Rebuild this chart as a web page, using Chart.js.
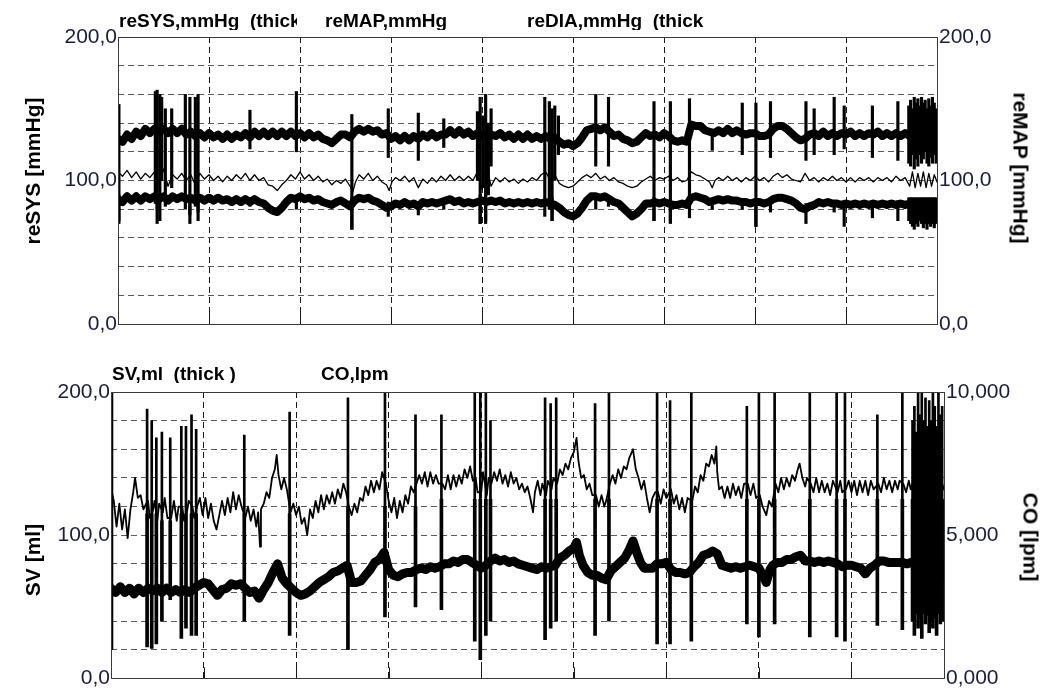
<!DOCTYPE html>
<html><head><meta charset="utf-8">
<script src="https://cdn.jsdelivr.net/npm/chart.js@4/dist/chart.umd.min.js"></script>
<style>
html,body{margin:0;padding:0;background:#fff;width:1047px;height:693px;overflow:hidden;font-family:'Liberation Sans',Arial,sans-serif;}
canvas{position:absolute;left:0;}
#c1{top:0}
#c2{top:350px}
.hdr{position:absolute;font-weight:bold;font-size:19px;line-height:19px;color:#000;white-space:pre;overflow:hidden;}
.vt{position:absolute;font-weight:bold;font-size:21px;line-height:23px;white-space:nowrap;color:#000;}
</style></head><body>
<canvas id="c1" width="1047" height="345"></canvas>
<canvas id="c2" width="1047" height="343"></canvas>
<div class="hdr" style="left:119px;top:11px;width:178px">reSYS,mmHg  (thick</div>
<div class="hdr" style="left:325px;top:11px">reMAP,mmHg</div>
<div class="hdr" style="left:527px;top:11px">reDIA,mmHg  (thick</div>
<div class="hdr" style="left:112px;top:364px">SV,ml  (thick )</div>
<div class="hdr" style="left:321px;top:364px">CO,lpm</div>
<div class="vt" style="left:32px;top:171px;transform:translate(-50%,-50%) rotate(-90deg)">reSYS [mmHg]</div>
<div class="vt" style="left:1021px;top:168px;transform:translate(-50%,-50%) rotate(90deg)">reMAP [mmHg]</div>
<div class="vt" style="left:32px;top:560px;transform:translate(-50%,-50%) rotate(-90deg)">SV [ml]</div>
<div class="vt" style="left:1031px;top:537px;transform:translate(-50%,-50%) rotate(90deg)">CO [lpm]</div>
<script>
// ---- tick labels ----
const pressureTickValues = [0, 100, 200];
const pressureTickLabels = ['0,0', '100,0', '200,0'];
const svTickValues = [0, 100, 200];
const svTickLabels = ['0,0', '100,0', '200,0'];
const coTickValues = [0, 5, 10];
const coTickLabels = ['0,000', '5,000', '10,000'];

// ---- top panel, baseline traces: [time, mmHg] ----
const sysBase = [[0,129],[0.5,127],[1,132],[1.5,129],[2,134],[2.5,131],[3,136],[3.5,133],[4,136],[4.5,134],[5,136],[5.5,133],[6,136],[6.5,133],[7,136],[7.5,132],[8,134],[8.5,131],[9,133],[9.5,130],[10,133],[10.5,130],[11,132],[11.5,129],[12,132],[12.5,129],[13,132],[13.5,130],[14,133],[14.5,130],[15,134],[15.5,131],[16,134],[16.5,131],[17,134],[17.5,131],[18,134],[18.5,131],[19,134],[19.5,131],[20,133],[20.5,130],[21,133],[21.5,130],[22,132],[22.5,129],[23,128],[23.5,126],[24,129],[24.5,132],[25,132],[25.5,130],[26,134],[26.5,136],[27,134],[27.5,136],[28,134],[28.5,135],[29,132],[29.5,133],[30,129],[30.5,131],[31,128],[31.5,131],[32,128],[32.5,131],[33,129],[33.5,132],[34,130],[34.5,133],[35,130],[35.5,132],[36,132],[36.5,135],[37,132],[37.5,135],[38,132],[38.5,134],[39,131],[39.5,133],[40,131],[40.5,133],[41,132],[41.5,131],[42,133],[42.5,130],[43,132],[43.5,129],[44,132],[44.5,129],[45,132],[45.5,129],[46,131],[46.5,129],[47,131],[47.5,129],[48,130],[48.5,127],[49,125],[49.5,126],[50,124],[50.5,126],[51,130],[51.5,135],[52,136],[52.5,137],[53,135],[53.5,137],[54,134],[54.5,131],[55,132],[55.5,129],[56,128],[56.5,126],[57,127],[57.5,130],[58,133],[58.5,131],[59,132],[59.5,130],[60,133],[60.5,131],[61,128],[61.5,127],[62,128],[62.5,127],[63,139],[63.5,138],[64,138],[64.5,135],[65,134],[65.5,133],[66,135],[66.5,133],[67,136],[67.5,133],[68,135],[68.5,133],[69,132],[69.5,133],[70,133],[70.5,131],[71,131],[71.5,132],[72,136],[72.5,138],[73,138],[73.5,136],[74,133],[74.5,130],[75,128],[75.5,129],[76,132],[76.5,133],[77,131],[77.5,134],[78,131],[78.5,133],[79,131],[79.5,133],[80,132],[80.5,134],[81,131],[81.5,133],[82,131],[82.5,133],[83,132],[83.5,134],[84,131],[84.5,133],[85,131],[85.5,133],[86,131],[86.5,133],[87,131],[87.5,134],[88,130],[88.5,133],[89,130],[89.5,133],[90,129]];

const mapBase = [[0,106],[0.5,103],[1,107],[1.5,102],[2,106],[2.5,101],[3,105],[3.5,102],[4,106],[4.5,98],[5,108],[5.5,96],[6,104],[6.5,101],[7,105],[7.5,100],[8,104],[8.5,97],[9,105],[9.5,101],[10,104],[10.5,100],[11,103],[11.5,99],[12,103],[12.5,100],[13,104],[13.5,101],[14,105],[14.5,100],[15,104],[15.5,100],[16,102],[16.5,97],[17,96],[17.5,93],[18,97],[18.5,100],[19,104],[19.5,101],[20,106],[20.5,101],[21,104],[21.5,100],[22,103],[22.5,99],[23,101],[23.5,97],[24,100],[24.5,98],[25,101],[25.5,96],[25.8,92],[26.1,99],[26.5,104],[27,101],[27.5,105],[28,100],[28.5,103],[29,99],[29.5,97],[29.8,93],[30.1,99],[30.5,102],[31,100],[31.5,103],[32,99],[32.5,102],[33,95],[33.5,101],[34,98],[34.5,102],[35,99],[35.5,103],[36,100],[36.5,104],[37,100],[37.5,103],[38,100],[38.5,103],[39,100],[39.5,106],[40,94],[40.5,110],[41,96],[41.5,102],[42,99],[42.5,102],[43,99],[43.5,101],[44,98],[44.5,101],[45,99],[45.5,102],[46,100],[46.5,104],[47,106],[47.5,100],[48,104],[48.5,98],[49,96],[49.5,95],[50,96],[50.5,99],[51,102],[51.5,104],[52,102],[52.5,105],[53,101],[53.5,103],[54,100],[54.5,102],[55,99],[55.5,98],[56,96],[56.5,95],[57,96],[57.5,99],[58,101],[58.5,103],[59,100],[59.5,102],[60,101],[60.5,103],[61,100],[61.5,102],[62,99],[62.5,100],[63,106],[63.5,104],[64,103],[64.5,101],[65,99],[65.3,95],[65.6,100],[66,102],[66.5,100],[67,103],[67.5,100],[68,102],[68.5,99],[69,102],[69.5,100],[70,103],[70.5,100],[71,102],[71.5,99],[72,103],[72.5,105],[73,102],[73.5,104],[74,101],[74.5,100],[75,99],[75.5,105],[76,100],[76.5,102],[77,99],[77.5,102],[78,100],[78.5,103],[79,100],[79.5,102],[80,99],[80.5,102],[81,99],[81.5,102],[82,100],[82.5,102],[83,99],[83.5,102],[84,100],[84.5,102],[85,99],[85.5,103],[86,100],[86.5,102],[87,96],[87.3,106],[87.6,95],[87.9,105],[88.2,96],[88.5,106],[88.8,95],[89.1,105],[89.4,96],[89.7,104],[90,99]];

const diaBase = [[0,87],[0.5,85],[1,89],[1.5,86],[2,89],[2.5,86],[3,89],[3.5,87],[4,89],[4.5,87],[5,89],[5.5,86],[6,89],[6.5,87],[7,89],[7.5,87],[8,88],[8.5,86],[9,88],[9.5,86],[10,88],[10.5,86],[11,88],[11.5,86],[12,87],[12.5,85],[13,87],[13.5,85],[14,87],[14.5,85],[15,87],[15.5,85],[16,84],[16.5,81],[17,79],[17.5,78],[18,81],[18.5,85],[19,88],[19.5,87],[20,89],[20.5,87],[21,88],[21.5,86],[22,87],[22.5,85],[23,84],[23.5,83],[24,85],[24.5,86],[25,84],[25.5,82],[26,86],[26.5,88],[27,87],[27.5,88],[28,86],[28.5,85],[29,83],[29.5,81],[30,82],[30.5,84],[31,83],[31.5,85],[32,83],[32.5,84],[33,82],[33.5,85],[34,84],[34.5,85],[35,84],[35.5,85],[36,86],[36.5,87],[37,85],[37.5,86],[38,84],[38.5,85],[39,84],[39.5,85],[40,86],[40.5,85],[41,86],[41.5,85],[42,86],[42.5,84],[43,85],[43.5,84],[44,85],[44.5,84],[45,85],[45.5,84],[46,85],[46.5,84],[47,85],[47.5,84],[48,83],[48.5,81],[49,78],[49.5,76],[50,75],[50.5,77],[51,81],[51.5,86],[52,89],[52.5,89],[53,88],[53.5,89],[54,87],[54.5,85],[55,84],[55.5,81],[56,78],[56.5,75],[57,77],[57.5,80],[58,84],[58.5,84],[59,85],[59.5,84],[60,85],[60.5,84],[61,83],[61.5,83],[62,84],[62.5,83],[63,88],[63.5,89],[64,88],[64.5,87],[65,85],[65.5,86],[66,87],[66.5,86],[67,87],[67.5,86],[68,86],[68.5,85],[69,85],[69.5,84],[70,85],[70.5,85],[71,84],[71.5,85],[72,87],[72.5,88],[73,88],[73.5,87],[74,86],[74.5,84],[75,81],[75.5,80],[76,82],[76.5,83],[77,85],[77.5,84],[78,85],[78.5,84],[79,84],[79.5,83],[80,84],[80.5,83],[81,84],[81.5,83],[82,84],[82.5,83],[83,84],[83.5,83],[84,84],[84.5,83],[85,84],[85.5,83],[86,84],[86.5,83],[87,84],[87.5,83],[88,84],[88.5,83],[89,84],[89.5,83],[90,82]];

// ---- top panel, artefact spikes: [time, low, high] in mmHg ----
const sysSpikes = [[0.1,72,153],[4.1,84,162],[4.3,80,163],[4.6,90,160],[4.8,100,158],[5.2,82,150],[5.9,95,150],[7.4,80,160],[7.9,76,158],[8.5,82,158],[8.8,78,160],[14.5,122,149],[19.6,120,162],[25.7,66,146],[29.7,116,150],[33.0,114,147],[35.8,123,143],[39.5,100,148],[39.8,70,158],[40.1,95,145],[40.4,72,160],[40.7,90,140],[41.0,110,150],[46.9,75,158],[47.4,80,155],[47.7,72,150],[48.0,100,152],[48.4,118,145],[52.5,110,160],[53.9,110,158],[58.9,72,155],[60.7,71,155],[62.8,85,157],[65.3,121,133],[68.6,118,154],[70.1,68,154],[71.7,116,155],[75.6,114,155],[76.5,118,150],[78.7,118,158],[79.8,122,152],[82.9,116,152],[85.7,114,155],[86.9,112,152],[87.1,110,156],[87.3,118,150],[87.5,108,158],[87.7,115,154],[87.9,110,157],[88.1,118,152],[88.3,112,158],[88.5,115,154],[88.7,120,156],[88.9,112,150],[89.1,110,157],[89.3,116,152],[89.5,112,158],[89.7,118,154],[89.9,112,150]];
const diaSpikes = [[0.1,70,90],[4.3,70,90],[4.6,72,90],[7.9,70,90],[8.8,72,90],[14.5,82,88],[19.6,80,88],[25.7,66,88],[29.7,75,85],[33.0,76,85],[35.8,80,86],[39.8,70,90],[40.4,70,90],[47.7,72,88],[52.5,80,90],[53.9,82,88],[58.9,72,88],[60.7,70,86],[62.8,74,88],[65.3,80,86],[68.6,80,86],[70.1,68,86],[71.7,78,86],[75.6,70,84],[78.7,78,86],[79.8,68,86],[82.9,74,86],[85.7,72,86],[86.9,72,88],[87.1,70,88],[87.3,68,88],[87.5,66,88],[87.7,70,88],[87.9,68,88],[88.1,72,88],[88.3,70,88],[88.5,67,88],[88.7,70,88],[88.9,66,88],[89.1,70,88],[89.3,68,88],[89.5,70,88],[89.7,67,88],[89.9,70,88]];

// ---- bottom panel, baseline traces: SV [time, ml], CO [time, lpm] ----
const svBase = [[0,63],[0.5,60],[1,64],[1.5,60],[2,63],[2.5,59],[3,63],[3.5,60],[4,63],[4.5,61],[5,63],[5.5,60],[6,63],[6.5,60],[7,62],[7.5,60],[8,62],[8.5,60],[9,63],[9.5,65],[10,67],[10.5,66],[11,62],[11.5,58],[12,62],[12.5,63],[13,66],[13.5,65],[14,66],[14.5,63],[15,60],[15.5,61],[16,56],[16.5,62],[17,67],[17.5,74],[18,80],[18.5,70],[19,66],[19.5,63],[20,60],[20.5,58],[21,59],[21.5,61],[22,64],[22.5,67],[23,69],[23.5,71],[24,74],[24.5,75],[25,77],[25.5,79],[26,67],[26.5,67],[27,68],[27.5,72],[28,76],[28.5,81],[29,83],[29.5,88],[30,76],[30.5,72],[31,71],[31.5,73],[32,74],[32.5,74],[33,76],[33.5,77],[34,76],[34.5,78],[35,77],[35.5,78],[36,80],[36.5,80],[37,82],[37.5,81],[38,83],[38.5,83],[39,81],[39.5,79],[40,77],[40.5,79],[41,82],[41.5,84],[42,82],[42.5,83],[43,81],[43.5,82],[44,80],[44.5,79],[45,78],[45.5,77],[46,76],[46.5,78],[47,77],[47.5,78],[48,79],[48.5,84],[49,86],[49.5,89],[50,91],[50.3,95],[50.6,86],[51,79],[51.5,74],[52,72],[52.5,72],[53,70],[53.5,69],[54,75],[54.5,78],[55,81],[55.5,84],[56,90],[56.4,96],[56.8,88],[57.2,81],[57.6,77],[58,77],[58.5,77],[59,80],[59.5,80],[60,81],[60.5,76],[61,74],[61.5,74],[62,73],[62.5,74],[63,78],[63.5,81],[64,86],[64.5,87],[65,89],[65.5,87],[66,79],[66.5,78],[67,77],[67.5,78],[68,77],[68.5,78],[69,79],[69.5,78],[70,77],[70.5,71],[70.8,67],[71.2,76],[71.5,79],[72,81],[72.5,81],[73,83],[73.5,83],[74,85],[74.5,86],[75,82],[75.5,82],[76,81],[76.5,82],[77,81],[77.5,82],[78,81],[78.5,80],[79,78],[79.5,79],[80,79],[80.5,78],[81,77],[81.5,73],[82,77],[82.5,79],[83,82],[83.5,82],[84,81],[84.5,81],[85,81],[85.5,81],[86,80],[86.5,81],[87,80],[87.5,80],[88,81],[88.5,80],[89,80],[89.5,81],[90,72]];

const coBase = [[0,8.2],[0.1,6.5],[0.3,6.2],[0.6,5.3],[0.9,6.1],[1.2,5.2],[1.5,5.9],[1.8,4.9],[2.1,5.9],[2.4,6.5],[2.6,7.0],[2.9,6.3],[3.2,6.4],[3.5,5.9],[3.8,6.1],[4.0,6.2],[4.2,5.6],[4.5,5.8],[4.7,6.2],[5.0,5.5],[5.2,6.1],[5.6,5.8],[5.8,6.3],[6.1,5.6],[6.5,5.6],[6.8,6.2],[7.1,5.5],[7.3,6.0],[7.7,6.0],[7.9,5.5],[8.2,5.8],[8.4,6.2],[8.8,6.0],[9.0,5.6],[9.3,6.0],[9.6,6.3],[9.9,5.7],[10.2,6.3],[10.5,5.6],[10.8,6.1],[11.1,5.5],[11.4,5.2],[11.7,5.7],[12.0,6.2],[12.3,5.7],[12.6,6.3],[12.9,5.8],[13.2,6.5],[13.5,5.9],[13.8,6.4],[14.1,6.0],[14.5,5.6],[14.8,6.0],[15.1,5.5],[15.4,5.9],[15.7,5.3],[15.9,5.8],[16.1,4.6],[16.2,5.9],[16.5,6.1],[16.8,6.5],[17.1,6.3],[17.4,7.0],[17.7,7.3],[17.9,7.8],[18.1,7.1],[18.4,6.6],[18.7,7.0],[19.0,6.6],[19.4,5.8],[19.7,6.1],[20.0,5.7],[20.3,6.0],[20.6,5.4],[20.9,5.6],[21.2,5.0],[21.5,5.9],[21.8,5.6],[22.1,6.2],[22.4,5.8],[22.7,6.4],[23.0,5.9],[23.3,6.4],[23.6,6.1],[23.9,6.5],[24.2,6.1],[24.5,6.6],[24.8,6.3],[25.1,6.8],[25.4,6.5],[25.7,6.0],[26.0,5.7],[26.3,6.1],[26.6,5.8],[26.9,6.3],[27.2,6.2],[27.5,6.7],[27.8,6.4],[28.1,6.9],[28.4,6.5],[28.7,6.9],[29.0,6.6],[29.3,7.2],[29.7,6.8],[30.0,6.2],[30.3,5.8],[30.6,6.3],[30.9,5.6],[31.2,6.2],[31.5,5.8],[31.8,6.4],[32.1,6.1],[32.4,6.7],[32.7,6.5],[33.0,6.8],[33.3,7.1],[33.6,6.8],[33.9,7.2],[34.2,6.7],[34.5,7.2],[34.8,6.8],[35.1,7.1],[35.4,6.8],[35.8,6.8],[36.1,6.6],[36.4,7.1],[36.7,6.6],[37.0,7.1],[37.3,6.7],[37.6,7.1],[37.9,6.8],[38.2,7.3],[38.5,7.0],[38.8,7.4],[39.1,6.9],[39.4,7.0],[39.6,6.5],[40.0,6.5],[40.2,7.2],[40.6,6.4],[40.8,7.0],[41.1,6.8],[41.4,7.2],[41.7,6.9],[42.0,7.3],[42.3,6.8],[42.6,7.1],[42.9,6.7],[43.2,7.2],[43.5,6.8],[43.8,7.0],[44.1,6.6],[44.4,6.8],[44.7,6.5],[45.0,6.7],[45.3,6.3],[45.6,5.8],[45.8,6.5],[46.1,6.9],[46.4,6.4],[46.6,6.8],[47.0,6.4],[47.2,6.9],[47.6,6.6],[47.8,7.0],[48.2,6.8],[48.5,7.3],[48.8,7.1],[49.1,7.5],[49.4,7.3],[49.7,7.7],[50.0,7.9],[50.3,8.4],[50.5,7.6],[50.8,7.0],[51.1,7.1],[51.4,6.6],[51.7,6.8],[52.0,6.4],[52.4,6.4],[52.7,6.0],[53.0,6.4],[53.3,6.0],[53.5,6.2],[53.9,6.8],[54.2,7.1],[54.5,6.8],[54.8,7.3],[55.1,7.0],[55.4,7.4],[55.7,7.3],[56.0,7.7],[56.4,8.0],[56.7,7.3],[57.0,7.0],[57.3,6.6],[57.6,6.9],[57.9,6.3],[58.2,5.8],[58.5,6.3],[58.8,6.5],[59.1,6.5],[59.4,6.1],[59.7,6.6],[60.0,6.3],[60.5,6.6],[60.8,6.1],[61.1,6.4],[61.4,5.9],[61.7,6.3],[62.0,5.8],[62.3,6.3],[62.8,6.2],[63.1,6.7],[63.4,6.5],[63.7,7.1],[64.0,6.9],[64.3,7.5],[64.6,7.4],[64.9,7.8],[65.2,7.5],[65.4,8.1],[65.5,7.2],[65.7,6.6],[66.0,6.7],[66.3,6.3],[66.6,6.7],[66.9,6.3],[67.2,6.8],[67.5,6.4],[67.8,6.7],[68.1,6.3],[68.4,6.8],[68.8,6.8],[69.1,6.4],[69.4,6.8],[69.7,6.3],[70.1,6.4],[70.4,6.0],[70.8,5.7],[71.1,6.2],[71.4,6.0],[71.8,6.8],[72.1,6.5],[72.4,7.0],[72.7,6.6],[73.0,7.0],[73.3,6.7],[73.6,7.1],[73.9,6.9],[74.2,7.3],[74.4,7.5],[74.7,7.0],[75.0,6.7],[75.2,7.0],[75.6,6.8],[75.9,6.5],[76.2,7.0],[76.5,6.5],[76.8,6.9],[77.1,6.5],[77.4,6.8],[77.7,6.4],[78.0,6.9],[78.5,6.5],[78.8,6.9],[79.0,6.5],[79.4,6.6],[79.7,6.9],[80.0,6.5],[80.3,6.9],[80.6,6.4],[80.9,6.9],[81.2,6.5],[81.5,6.9],[81.8,6.4],[82.1,6.9],[82.4,6.6],[82.9,6.8],[83.2,6.5],[83.5,7.0],[83.8,6.6],[84.1,6.9],[84.4,6.5],[84.7,6.9],[85.0,6.6],[85.2,6.9],[85.6,6.8],[85.9,6.5],[86.2,6.9],[86.4,6.6],[86.7,6.9],[87.0,6.4],[87.3,7.0],[87.6,6.5],[87.9,7.0],[88.2,6.4],[88.5,7.0],[88.8,6.5],[89.1,7.0],[89.4,6.4],[89.7,6.9],[90,6.6]];

// ---- bottom panel, artefact spikes: [time, low, high] ----
const svSpikes = [[0.05,20,200],[3.9,22,115],[4.4,21,115],[4.9,24,115],[5.5,40,110],[6.4,55,110],[7.6,28,115],[8.1,35,115],[8.7,30,115],[9.2,30,115],[14.4,40,115],[19.3,30,115],[25.6,20,120],[29.6,43,120],[32.9,50,120],[35.7,48,125],[39.3,26,125],[39.9,13,125],[40.5,30,125],[41.0,40,125],[46.9,27,125],[47.5,35,125],[48.1,40,125],[52.3,30,125],[53.8,40,125],[59.0,24,125],[60.4,24,125],[62.7,26,125],[68.7,38,125],[70.0,29,125],[71.7,38,125],[75.5,29,125],[78.4,29,125],[79.3,26,125],[82.8,37,125],[85.5,34,125],[86.6,40,125],[86.8,30,125],[87.0,45,125],[87.2,35,125],[87.4,42,125],[87.6,28,125],[87.8,45,125],[88.0,38,125],[88.2,44,125],[88.4,32,125],[88.6,40,125],[88.8,35,125],[89.0,42,125],[89.2,30,125],[89.4,45,125],[89.6,38,125],[89.8,40,125]];
const coSpikes = [[0.05,5.5,9.9],[3.9,5.5,9.4],[4.4,5.5,9.0],[4.9,5.5,8.4],[5.5,5.5,8.6],[6.4,5.5,8.4],[7.6,5.5,8.8],[8.1,5.5,8.8],[8.7,5.5,9.2],[9.2,5.5,8.7],[14.4,5.5,8.5],[19.3,5.5,9.3],[25.6,6,9.8],[29.6,6,10],[32.9,6,9.2],[35.7,6,9.2],[39.3,6,10],[39.9,6,10],[40.5,6,10],[41.0,6,9.0],[46.9,6,9.8],[47.5,6,9.6],[48.1,6,9.8],[52.3,6,9.6],[53.8,6,10],[59.0,6,10],[60.4,6,9.7],[62.7,6,10],[68.7,6,9.5],[70.0,6,10],[71.7,6,10],[75.5,6,10],[78.4,6,10],[79.3,6,10],[82.8,6,9.2],[85.5,6,10],[86.6,6,9.0],[86.8,6,9.5],[87.0,6,8.6],[87.2,6,10],[87.4,6,9.2],[87.6,6,10],[87.8,6,9.0],[88.0,6,9.8],[88.2,6,8.8],[88.4,6,9.7],[88.6,6,9.0],[88.8,6,10],[89.0,6,9.5],[89.2,6,8.8],[89.4,6,10],[89.6,6,9.2],[89.8,6,9.5]];

// ---- rendering ----
const toXY = pts => pts.map(p => ({x: p[0], y: p[1]}));
const toRange = sp => sp.map(s => ({x: s[0], y: [s[1], s[2]]}));
const tickFont = {family: "'Liberation Sans', Arial, sans-serif", size: 21};
const tickColor = '#1c1c3e';
const labelFor = (vals, labs) => v => { const i = vals.indexOf(v); return i >= 0 ? labs[i] : ''; };

const frame = {
  id: 'frame',
  afterDatasetsDraw(c) {
    const a = c.chartArea, ctx = c.ctx, xs = c.scales.x;
    ctx.save();
    ctx.setLineDash([]);
    ctx.strokeStyle = '#1a1a1a';
    ctx.lineWidth = 1;
    ctx.beginPath();
    xs.ticks.forEach(t => {
      const px = Math.round(xs.getPixelForValue(t.value)) + 0.5;
      ctx.moveTo(px, a.bottom);
      ctx.lineTo(px, a.bottom - 11);
    });
    ctx.stroke();
    ctx.strokeStyle = '#3a3a3a';
    ctx.strokeRect(Math.round(a.left) + 0.5, Math.round(a.top) + 0.5, Math.round(a.right - a.left), Math.round(a.bottom - a.top));
    ctx.restore();
  }
};

function lineDs(pts, width, axis) {
  return {type: 'line', data: toXY(pts), borderColor: '#000', borderWidth: width, pointRadius: 0, tension: 0,
          borderJoinStyle: 'round', borderCapStyle: 'round', fill: false, yAxisID: axis};
}
function spikeDs(sp, thick, axis) {
  return {type: 'bar', data: toRange(sp), backgroundColor: '#000', borderWidth: 0,
          barThickness: thick, grouped: false, yAxisID: axis};
}

function makeChart(id, datasets, cfg) {
  return new Chart(document.getElementById(id), {
    type: 'line',
    data: {datasets},
    plugins: [frame],
    options: {
      responsive: false, animation: false, devicePixelRatio: 1,
      layout: {padding: {top: cfg.padTop, left: 0, right: 0, bottom: 0}},
      plugins: {legend: {display: false}, tooltip: {enabled: false}},
      scales: {
        x: {type: 'linear', min: 0, max: 90, offset: false,
            ticks: {stepSize: 10, display: false},
            grid: {color: '#1a1a1a', lineWidth: 1, drawTicks: false, offset: false},
            border: {display: false, dash: [6, 4]},
            afterFit: s => { s.height = cfg.xHeight; }},
        y: {type: 'linear', position: 'left', min: 0, max: cfg.leftMax,
            ticks: {stepSize: cfg.leftMax / 10, autoSkip: false, font: tickFont, color: tickColor, padding: 1,
                    callback: labelFor(cfg.leftVals, cfg.leftLabs)},
            grid: {color: '#5a5a5a', lineWidth: 1, drawTicks: false},
            border: {display: false, dash: [6, 4]},
            afterFit: s => { s.width = cfg.leftW; }},
        yR: {type: 'linear', position: 'right', min: 0, max: cfg.rightMax,
            ticks: {stepSize: cfg.rightMax / 10, autoSkip: false, font: tickFont, color: tickColor, padding: 2,
                    callback: labelFor(cfg.rightVals, cfg.rightLabs)},
            grid: {display: false, drawTicks: false},
            border: {display: false},
            afterFit: s => { s.width = cfg.rightW; }}
      }
    }
  });
}

makeChart('c1', [
  lineDs(mapBase, 1.3, 'y'),
  lineDs(sysBase, 8, 'y'),
  lineDs(diaBase, 8, 'y'),
  spikeDs(sysSpikes, 2.5, 'y'),
  spikeDs(diaSpikes, 2.5, 'y')
], {padTop: 37, xHeight: 21, leftW: 118, rightW: 110, leftMax: 200, rightMax: 200,
    leftVals: pressureTickValues, leftLabs: pressureTickLabels,
    rightVals: pressureTickValues, rightLabs: pressureTickLabels});

makeChart('c2', [
  lineDs(coBase, 1.8, 'yR'),
  lineDs(svBase, 9, 'y'),
  spikeDs(coSpikes, 2, 'yR'),
  spikeDs(svSpikes, 3, 'y')
], {padTop: 42, xHeight: 11, leftW: 111, rightW: 103, leftMax: 200, rightMax: 10,
    leftVals: svTickValues, leftLabs: svTickLabels,
    rightVals: coTickValues, rightLabs: coTickLabels});
</script>
</body></html>
